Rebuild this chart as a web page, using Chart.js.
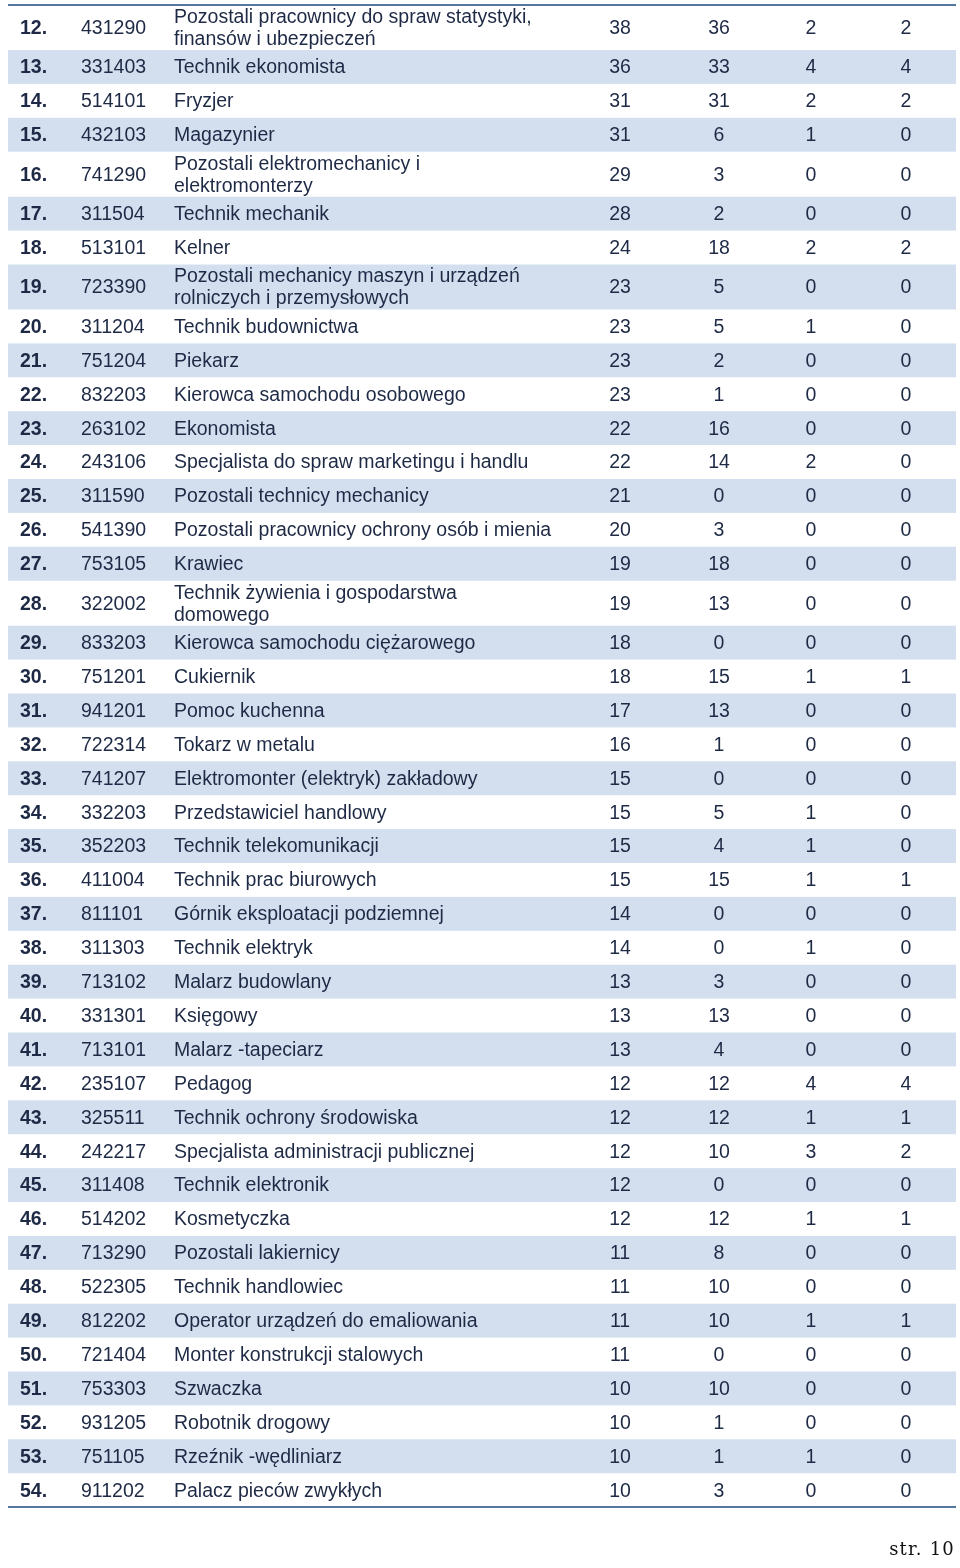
<!DOCTYPE html>
<html lang="pl">
<head>
<meta charset="utf-8">
<title>Zawody - str. 10</title>
<script src="https://cdn.jsdelivr.net/npm/chart.js@4.4.1/dist/chart.umd.min.js"></script>
<style>
  html, body { margin: 0; padding: 0; background: #fff; }
  #wrap { position: relative; width: 960px; height: 1568px; }
  #page { position: absolute; right: 5px; top: 1539px; line-height: 20px; font-family: "DejaVu Serif", serif; font-size: 18px; letter-spacing: 1.2px; color: #111; }
</style>
</head>
<body>
<div id="wrap">
  <canvas id="tableChart" width="960" height="1568"></canvas>
  <div id="page">str. 10</div>
</div>
<script>
// table data (rows 12 - 54)
const rowNos = [12, 13, 14, 15, 16, 17, 18, 19, 20, 21, 22, 23, 24, 25, 26, 27, 28, 29, 30, 31, 32,
  33, 34, 35, 36, 37, 38, 39, 40, 41, 42, 43, 44, 45, 46, 47, 48, 49, 50, 51, 52, 53, 54];
const codes = ["431290", "331403", "514101", "432103", "741290", "311504", "513101", "723390", "311204",
  "751204", "832203", "263102", "243106", "311590", "541390", "753105", "322002", "833203", "751201",
  "941201", "722314", "741207", "332203", "352203", "411004", "811101", "311303", "713102", "331301",
  "713101", "235107", "325511", "242217", "311408", "514202", "713290", "522305", "812202", "721404",
  "753303", "931205", "751105", "911202"];
const names = [
  "Pozostali pracownicy do spraw statystyki,\nfinansów i ubezpieczeń",
  "Technik ekonomista",
  "Fryzjer",
  "Magazynier",
  "Pozostali elektromechanicy i\nelektromonterzy",
  "Technik mechanik",
  "Kelner",
  "Pozostali mechanicy maszyn i urządzeń\nrolniczych i przemysłowych",
  "Technik budownictwa",
  "Piekarz",
  "Kierowca samochodu osobowego",
  "Ekonomista",
  "Specjalista do spraw marketingu i handlu",
  "Pozostali technicy mechanicy",
  "Pozostali pracownicy ochrony osób i mienia",
  "Krawiec",
  "Technik żywienia i gospodarstwa\ndomowego",
  "Kierowca samochodu ciężarowego",
  "Cukiernik",
  "Pomoc kuchenna",
  "Tokarz w metalu",
  "Elektromonter (elektryk) zakładowy",
  "Przedstawiciel handlowy",
  "Technik telekomunikacji",
  "Technik prac biurowych",
  "Górnik eksploatacji podziemnej",
  "Technik elektryk",
  "Malarz budowlany",
  "Księgowy",
  "Malarz -tapeciarz",
  "Pedagog",
  "Technik ochrony środowiska",
  "Specjalista administracji publicznej",
  "Technik elektronik",
  "Kosmetyczka",
  "Pozostali lakiernicy",
  "Technik handlowiec",
  "Operator urządzeń do emaliowania",
  "Monter konstrukcji stalowych",
  "Szwaczka",
  "Robotnik drogowy",
  "Rzeźnik -wędliniarz",
  "Palacz pieców zwykłych"
];
const colA = [38, 36, 31, 31, 29, 28, 24, 23, 23, 23, 23, 22, 22, 21, 20, 19, 19, 18, 18, 17, 16,
  15, 15, 15, 15, 14, 14, 13, 13, 13, 12, 12, 12, 12, 12, 11, 11, 11, 11, 10, 10, 10, 10];
const colB = [36, 33, 31, 6, 3, 2, 18, 5, 5, 2, 1, 16, 14, 0, 3, 18, 13, 0, 15, 13, 1,
  0, 5, 4, 15, 0, 0, 3, 13, 4, 12, 12, 10, 0, 12, 8, 10, 10, 0, 10, 1, 1, 3];
const colC = [2, 4, 2, 1, 0, 0, 2, 0, 1, 0, 0, 0, 2, 0, 0, 0, 0, 0, 1, 0, 0,
  0, 1, 1, 1, 0, 1, 0, 0, 0, 4, 1, 3, 0, 1, 0, 0, 1, 0, 0, 0, 1, 0];
const colD = [2, 4, 2, 0, 0, 0, 2, 0, 0, 0, 0, 0, 0, 0, 0, 0, 0, 0, 1, 0, 0,
  0, 0, 0, 1, 0, 0, 0, 0, 0, 4, 1, 2, 0, 1, 0, 0, 1, 0, 0, 0, 0, 0];

// layout
const TOP = 5;
const ONE_LINE = 33.9, TWO_LINES = 45;
const LINE_GAP = 22;
const TEXT = "#1e2a45";
const STRIPE = "#d3dfee";
const RULE = "#55779f";
const FONT = '19.5px "Liberation Sans", Arial, sans-serif';
const FONT_BOLD = 'bold 19.5px "Liberation Sans", Arial, sans-serif';

// row boundaries in table units (y scale)
let rowStart = [], rowEnd = [], rowMid = [];
let acc = 0;
names.forEach(n => {
  const h = n.split("\n").length > 1 ? TWO_LINES : ONE_LINE;
  rowStart.push(acc);
  acc += h;
  rowEnd.push(acc);
  rowMid.push(acc - h / 2);
});
const total = acc;

// column positions on x scale, with alignment
const columns = [
  { x: 20, align: "left", font: FONT_BOLD, text: i => rowNos[i] + "." },
  { x: 81, align: "left", font: FONT, text: i => codes[i] },
  { x: 174, align: "left", font: FONT, text: i => names[i] },
  { x: 620, align: "center", font: FONT, text: i => String(colA[i]) },
  { x: 719, align: "center", font: FONT, text: i => String(colB[i]) },
  { x: 811, align: "center", font: FONT, text: i => String(colC[i]) },
  { x: 906, align: "center", font: FONT, text: i => String(colD[i]) }
];

const datasets = columns.map((c, ci) => ({
  label: "col" + ci,
  data: rowMid.map(y => ({ x: c.x, y: y })),
  pointRadius: 0,
  pointHoverRadius: 0,
  showLine: false
}));

// stripes + rules behind the text
const stripes = {
  id: "stripes",
  beforeDatasetsDraw(chart) {
    const { ctx, scales: { x, y } } = chart;
    const left = x.getPixelForValue(8), right = x.getPixelForValue(956);
    ctx.save();
    ctx.fillStyle = STRIPE;
    rowNos.forEach((n, i) => {
      if (n % 2 === 1) {
        const y0 = y.getPixelForValue(rowStart[i]);
        const y1 = y.getPixelForValue(rowEnd[i]);
        ctx.fillRect(left, y0, right - left, y1 - y0);
      }
    });
    ctx.strokeStyle = RULE;
    ctx.lineWidth = 2;
    [0, total].forEach(v => {
      const py = y.getPixelForValue(v);
      ctx.beginPath();
      ctx.moveTo(left, py);
      ctx.lineTo(right, py);
      ctx.stroke();
    });
    ctx.restore();
  }
};

// cell text drawn at each point of the datasets
const cellText = {
  id: "cellText",
  afterDatasetsDraw(chart) {
    const ctx = chart.ctx;
    ctx.save();
    ctx.fillStyle = TEXT;
    ctx.textBaseline = "middle";
    columns.forEach((c, ci) => {
      const meta = chart.getDatasetMeta(ci);
      ctx.font = c.font;
      ctx.textAlign = c.align;
      meta.data.forEach((pt, i) => {
        const lines = c.text(i).split("\n");
        const off = (lines.length - 1) * LINE_GAP / 2;
        lines.forEach((ln, k) => {
          ctx.fillText(ln, pt.x, pt.y - off + k * LINE_GAP + 1);
        });
      });
    });
    ctx.restore();
  }
};

new Chart(document.getElementById("tableChart"), {
  type: "scatter",
  data: { datasets: datasets },
  options: {
    responsive: false,
    animation: false,
    events: [],
    layout: { padding: { left: 0, right: 0, top: TOP, bottom: 1568 - TOP - total } },
    scales: {
      x: { type: "linear", min: 0, max: 960, display: false },
      y: { type: "linear", min: 0, max: total, reverse: true, display: false }
    },
    plugins: {
      legend: { display: false },
      tooltip: { enabled: false },
      title: { display: false }
    }
  },
  plugins: [stripes, cellText]
});
</script>
</body>
</html>
